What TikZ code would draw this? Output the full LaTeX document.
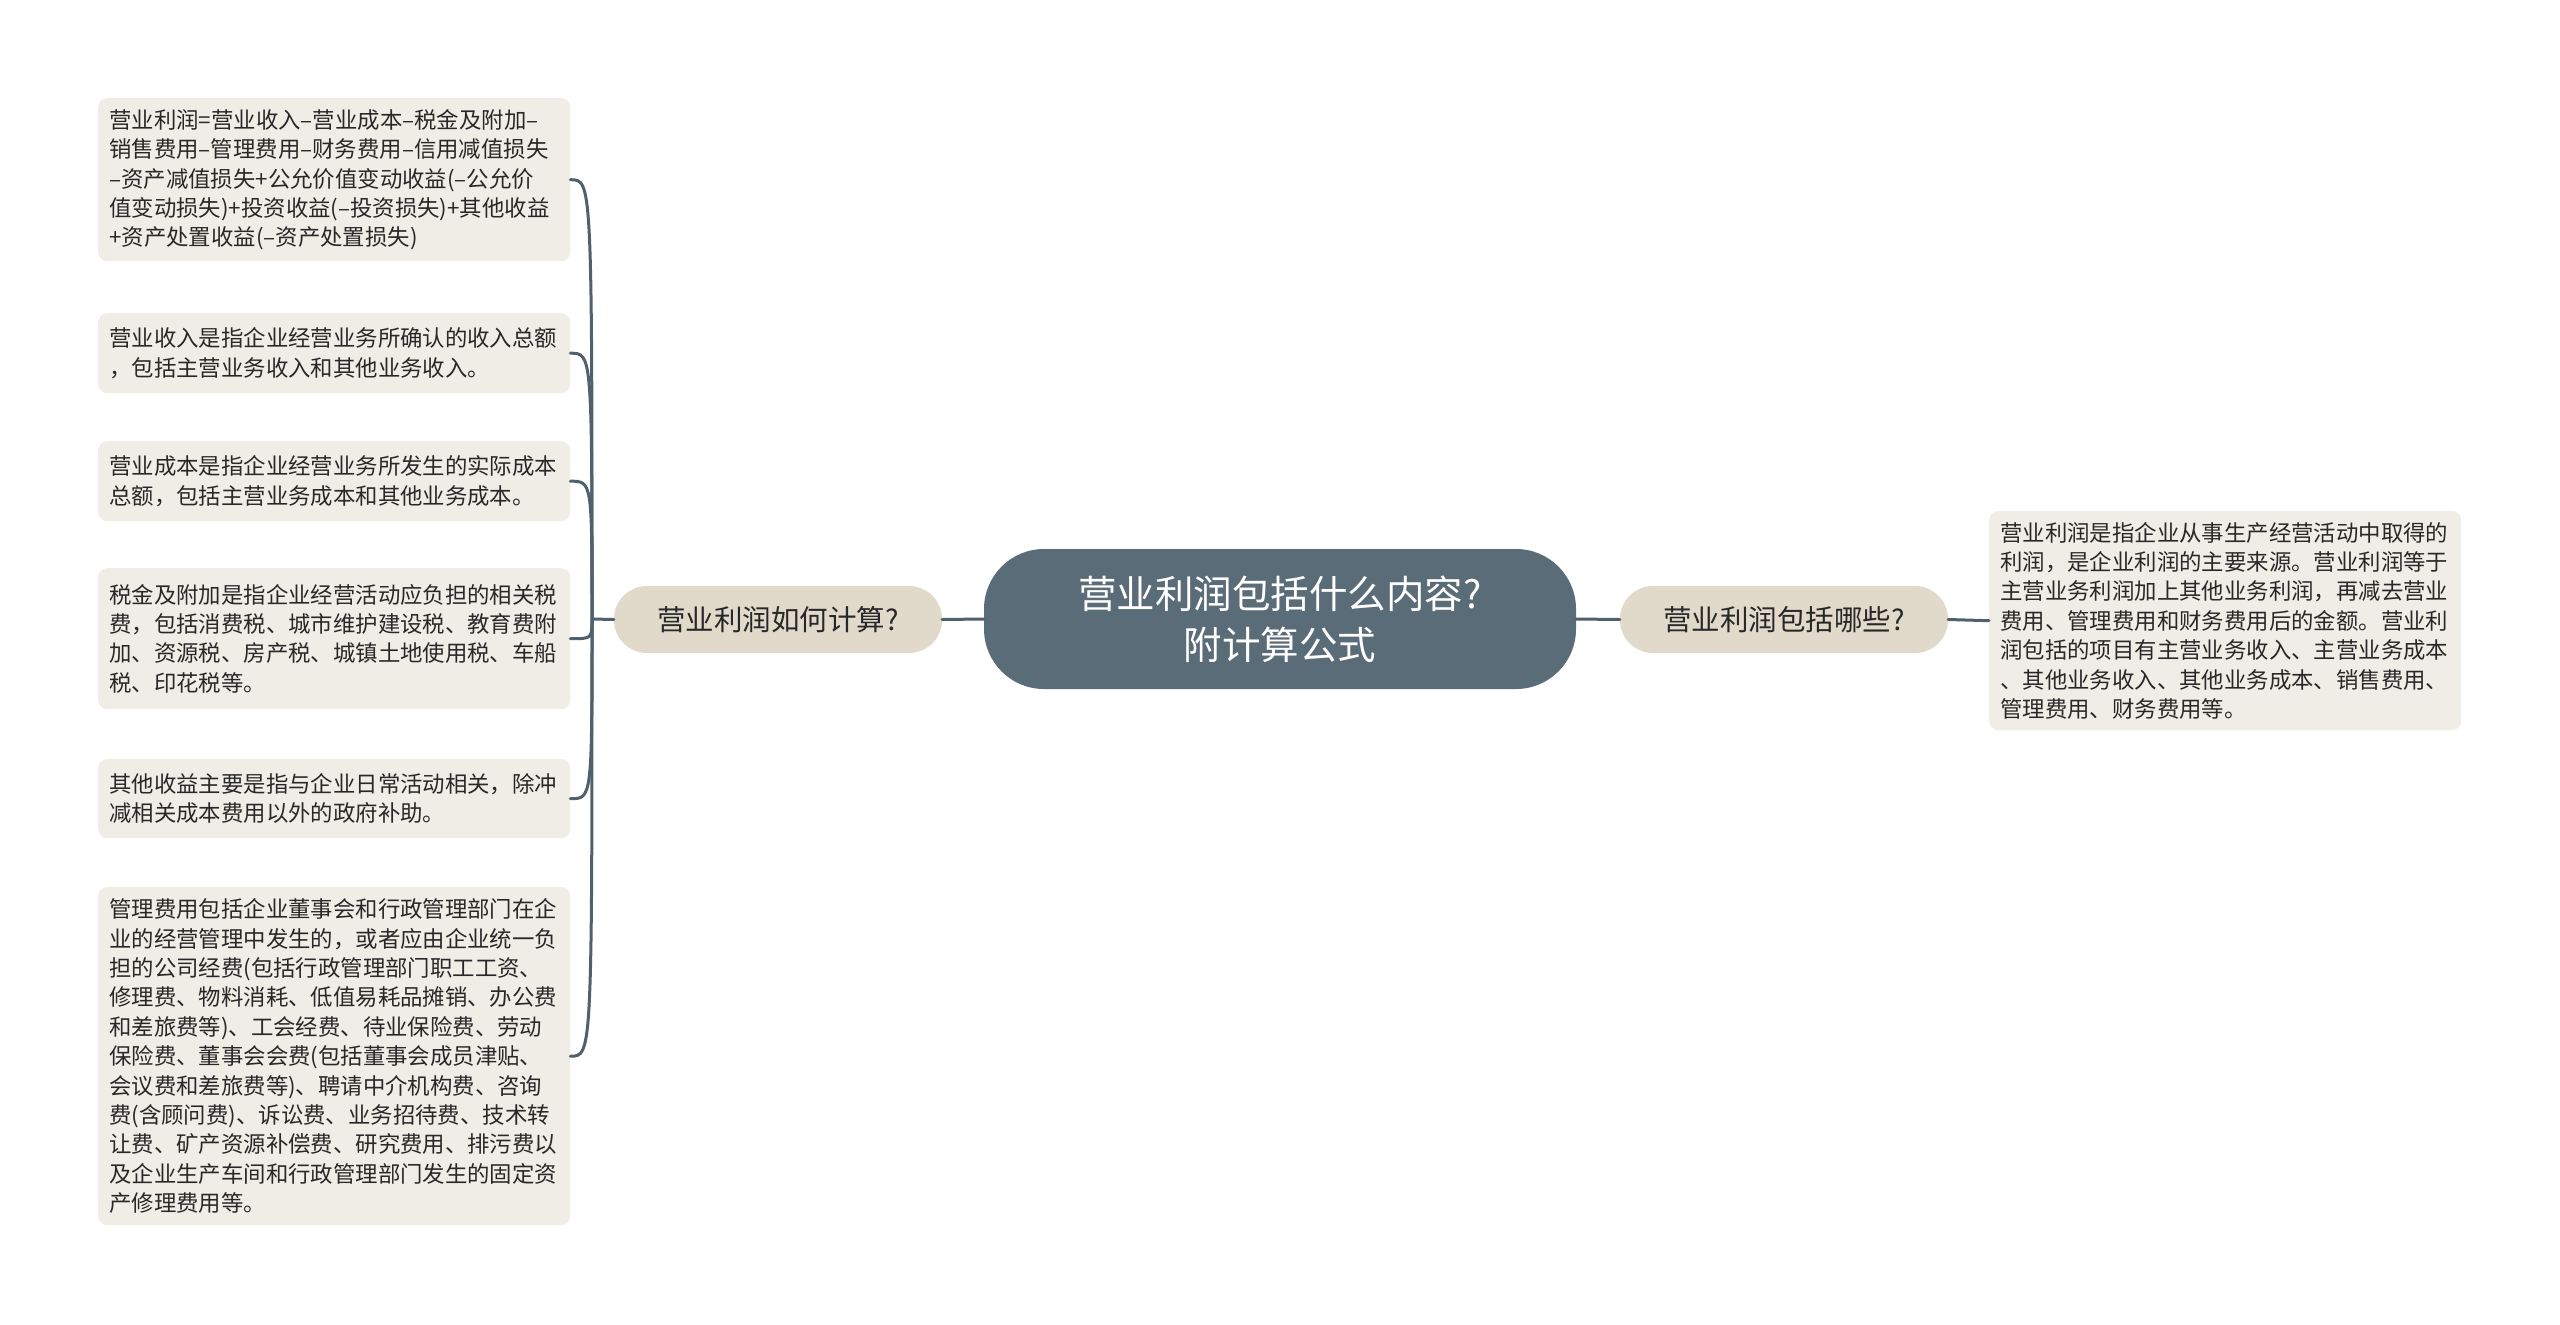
\documentclass[tikz,border=0pt]{standalone}
\usepackage{fontspec}
\setmainfont{Noto Sans CJK SC}
\definecolor{centerfill}{RGB}{91,108,121}
\definecolor{subfill}{RGB}{225,217,202}
\definecolor{leaffill}{RGB}{240,237,230}
\definecolor{linecol}{RGB}{80,96,109}
\definecolor{txt}{RGB}{40,40,40}
\tikzset{
  leaf/.style={fill=leaffill, rounded corners=9pt, text=txt, align=left,
    inner xsep=11pt, inner ysep=0pt, text width=450pt, minimum width=472pt,
    anchor=north west, font=\fontsize{22.4pt}{29.4pt}\selectfont},
  sub/.style={fill=subfill, rounded corners=33pt, text=txt,
    minimum width=328pt, minimum height=67pt, inner sep=0pt,
    font=\fontsize{28.5pt}{34pt}\selectfont},
  centre/.style={fill=centerfill, rounded corners=60pt, text=white, align=center,
    minimum width=592pt, minimum height=140pt, inner sep=0pt,
    font=\fontsize{38.5pt}{50.6pt}\selectfont},
  conn/.style={draw=linecol, line width=3pt, line cap=round}
}
\begin{document}
\begin{tikzpicture}[x=1pt,y=-1pt]
\useasboundingbox[fill=white] (0,0) rectangle (2560,1325);
\node[centre] (c) at (1280,619) {营业利润包括什么内容?\\附计算公式};
\node[sub] (sl) at (778,619.5) {营业利润如何计算?};
\node[sub] (sr) at (1784,619.5) {营业利润包括哪些?};
\coordinate (hub) at (592,619);
\node[leaf, minimum height=163pt] (l1) at (98,98) {营业利润=营业收入–营业成本–税金及附加–\\销售费用–管理费用–财务费用–信用减值损失\\–资产减值损失+公允价值变动收益(–公允价\\值变动损失)+投资收益(–投资损失)+其他收益\\+资产处置收益(–资产处置损失)};
\node[leaf, minimum height=80pt] (l2) at (98,313) {营业收入是指企业经营业务所确认的收入总额\\，包括主营业务收入和其他业务收入。};
\node[leaf, minimum height=80pt] (l3) at (98,441) {营业成本是指企业经营业务所发生的实际成本\\总额，包括主营业务成本和其他业务成本。};
\node[leaf, minimum height=141pt] (l4) at (98,568) {税金及附加是指企业经营活动应负担的相关税\\费，包括消费税、城市维护建设税、教育费附\\加、资源税、房产税、城镇土地使用税、车船\\税、印花税等。};
\node[leaf, minimum height=79pt] (l5) at (98,759) {其他收益主要是指与企业日常活动相关，除冲\\减相关成本费用以外的政府补助。};
\node[leaf, minimum height=338pt] (l6) at (98,887) {管理费用包括企业董事会和行政管理部门在企\\业的经营管理中发生的，或者应由企业统一负\\担的公司经费(包括行政管理部门职工工资、\\修理费、物料消耗、低值易耗品摊销、办公费\\和差旅费等)、工会经费、待业保险费、劳动\\保险费、董事会会费(包括董事会成员津贴、\\会议费和差旅费等)、聘请中介机构费、咨询\\费(含顾问费)、诉讼费、业务招待费、技术转\\让费、矿产资源补偿费、研究费用、排污费以\\及企业生产车间和行政管理部门发生的固定资\\产修理费用等。};
\node[leaf, minimum height=219pt] (r1) at (1989,511) {营业利润是指企业从事生产经营活动中取得的\\利润，是企业利润的主要来源。营业利润等于\\主营业务利润加上其他业务利润，再减去营业\\费用、管理费用和财务费用后的金额。营业利\\润包括的项目有主营业务收入、主营业务成本\\、其他业务收入、其他业务成本、销售费用、\\管理费用、财务费用等。};
\draw[conn] (c.west) -- (sl.east);
\draw[conn] (c.east) -- (sr.east -| sr.west);
\draw[conn] (sr.east) -- (r1.west);
\draw[conn] (sl.west) -- (hub);
\foreach \n in {l1,l2,l3,l4,l5,l6}{
  \draw[conn] (hub) .. controls (hub|-\n.east) .. (\n.east);
}
\end{tikzpicture}
\end{document}
